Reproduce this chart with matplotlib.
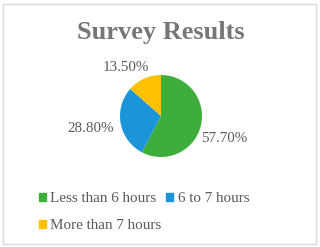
import matplotlib.pyplot as plt
from matplotlib.patches import Patch, Rectangle

categories = ['Less than 6 hours', '6 to 7 hours', 'More than 7 hours']
shares = [57.7, 28.8, 13.5]
labels = ['57.70%', '28.80%', '13.50%']
colors = ['#3dae3a', '#1b94da', '#ffc000']

# where the data labels sit, in pie radii from the centre
label_xy = [(1.54, -0.50), (-1.72, -0.26), (-0.86, 1.22)]

W, H = 320, 247
fig = plt.figure(figsize=(W / 100, H / 100), dpi=100)
fig.patches.append(Rectangle((3 / W, 3 / H), 313 / W, 240 / H, transform=fig.transFigure,
                             facecolor='white', edgecolor='#d9d9d9', linewidth=1, zorder=-5))

fig.text(161 / W, 1 - 32 / H, 'Survey Results', ha='center', va='center',
         fontsize=19, fontweight='bold', color='#767676', family='Liberation Serif')

# square axes for the pie, centre ~ (161, 116) px, radius ~41 px
ax = fig.add_axes([(161 - 41) / W, (H - 116 - 41) / H, 82 / W, 82 / H])
ax.patch.set_visible(False)
wedges, texts = ax.pie(shares, colors=colors, startangle=90, counterclock=False,
                       labels=labels,
                       textprops=dict(fontsize=10.8, color='#595959', family='Liberation Serif'),
                       wedgeprops=dict(linewidth=0))
ax.set_xlim(-1, 1)
ax.set_ylim(-1, 1)
ax.set_aspect('equal')
for t, xy in zip(texts, label_xy):
    t.set_position(xy)
    t.set_ha('center')
    t.set_va('center_baseline')

handles = [Patch(color=c) for c in colors]
order = [0, 2, 1]
leg = fig.legend([handles[i] for i in order], [categories[i] for i in order], ncol=2,
                 loc='upper left', bbox_to_anchor=(39 / W, 1 - 192 / H), frameon=False,
                 borderpad=0, borderaxespad=0, handlelength=0.45, handleheight=0.45,
                 handletextpad=0.3, columnspacing=0.3, labelspacing=0.95,
                 prop=dict(family='Liberation Serif', size=10.9))
for t in leg.get_texts():
    t.set_color('#595959')

fig.savefig('out.png', dpi=100)
